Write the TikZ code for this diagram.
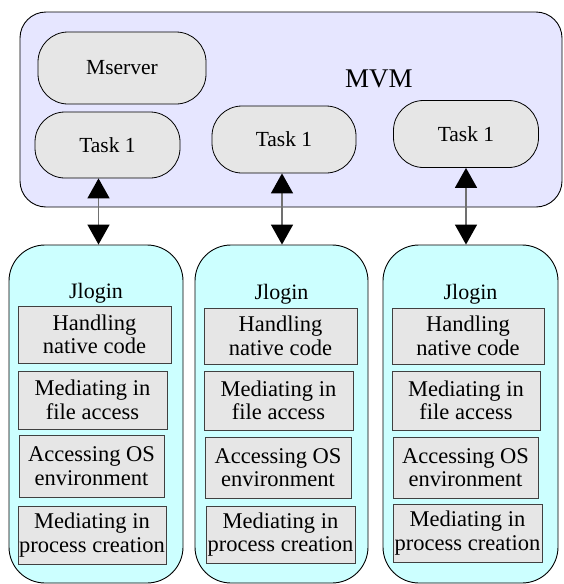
\documentclass[tikz,border=0pt]{standalone}
\usepackage{fontspec}
\setmainfont{Liberation Serif}
\usetikzlibrary{arrows.meta}
\definecolor{mvmfill}{HTML}{E6E6FF}
\definecolor{jfill}{HTML}{CCFFFF}
\definecolor{gfill}{HTML}{E6E6E6}
\definecolor{linegray}{HTML}{707070}
\begin{document}
\begin{tikzpicture}[x=1pt,y=-1pt,
  mvmbox/.style={draw, fill=mvmfill, rounded corners=26pt, line width=0.9pt, inner sep=0pt},
  jbox/.style={draw, fill=jfill, rounded corners=36pt, line width=0.9pt, inner sep=0pt},
  pill/.style={draw, fill=gfill, rounded corners=30pt, line width=0.8pt, inner sep=0pt,
    font=\fontsize{21.5}{23}\selectfont},
  func/.style={draw=black!75, fill=gfill, line width=0.8pt, inner sep=0pt, align=center,
    font=\fontsize{22.5}{23.5}\selectfont},
  lbl/.style={inner sep=0pt, font=\fontsize{22}{23}\selectfont},
  conn/.style={draw=linegray, line width=1.6pt,
    {Triangle[length=20pt,width=22pt,color=black]}-{Triangle[length=20pt,width=22pt,color=black]}}
]
\useasboundingbox (0,0) rectangle (563,584);

% MVM container
\node[mvmbox, minimum width=542pt, minimum height=195pt] (mvm) at (291,109.5) {};
\node[inner sep=0pt, font=\fontsize{27}{29}\selectfont] (mvmlbl) at (379,79) {MVM};

\node[pill, minimum width=168pt, minimum height=72pt] (ms) at (122,68) {Mserver};
\node[pill, minimum width=145pt, minimum height=66pt] (t1) at (107.5,145) {Task 1};
\node[pill, minimum width=144pt, minimum height=67pt] (t2) at (284,139.5) {Task 1};
\node[pill, minimum width=145pt, minimum height=67pt] (t3) at (466,134) {Task 1};

% Jlogin containers
\node[jbox, minimum width=174pt, minimum height=338pt] (j1) at (96,414) {};
\node[jbox, minimum width=173pt, minimum height=338pt] (j2) at (281.5,414) {};
\node[jbox, minimum width=175pt, minimum height=338pt] (j3) at (470.5,414) {};

\node[lbl] (jl1) at (96,293) {Jlogin};
\node[lbl] (jl2) at (281.5,294) {Jlogin};
\node[lbl] (jl3) at (470.5,294) {Jlogin};

% left column
\node[func, minimum width=153pt, minimum height=57pt] (h1) at (94.5,334.5) {Handling\\native code};
\node[func, minimum width=149pt, minimum height=58pt] (m1) at (92.5,400) {Mediating in\\file access};
\node[func, minimum width=145pt, minimum height=62pt] (a1) at (91.5,466) {Accessing OS\\environment};
\node[func, minimum width=148pt, minimum height=58pt] (p1) at (92,535) {Mediating in\\process creation};

% middle column
\node[func, minimum width=153pt, minimum height=56pt] (h2) at (280.5,336) {Handling\\native code};
\node[func, minimum width=149pt, minimum height=59pt] (m2) at (278.5,400.5) {Mediating in\\file access};
\node[func, minimum width=146pt, minimum height=61pt] (a2) at (278,467.5) {Accessing OS\\environment};
\node[func, minimum width=149pt, minimum height=57pt] (p2) at (280.5,534.5) {Mediating in\\process creation};

% right column
\node[func, minimum width=152pt, minimum height=56pt] (h3) at (468,336) {Handling\\native code};
\node[func, minimum width=148pt, minimum height=59pt] (m3) at (466,400.5) {Mediating in\\file access};
\node[func, minimum width=145pt, minimum height=61pt] (a3) at (465.5,467.5) {Accessing OS\\environment};
\node[func, minimum width=149pt, minimum height=58pt] (p3) at (467.5,533) {Mediating in\\process creation};

% connectors
\coordinate (x1) at (98.5,0);
\coordinate (x2) at (282,0);
\coordinate (x3) at (466,0);
\draw[conn] (x1 |- t1.south) -- (x1 |- j1.north);
\draw[conn] (x2 |- t2.south) -- (x2 |- j2.north);
\draw[conn] (x3 |- t3.south) -- (x3 |- j3.north);
\end{tikzpicture}
\end{document}
